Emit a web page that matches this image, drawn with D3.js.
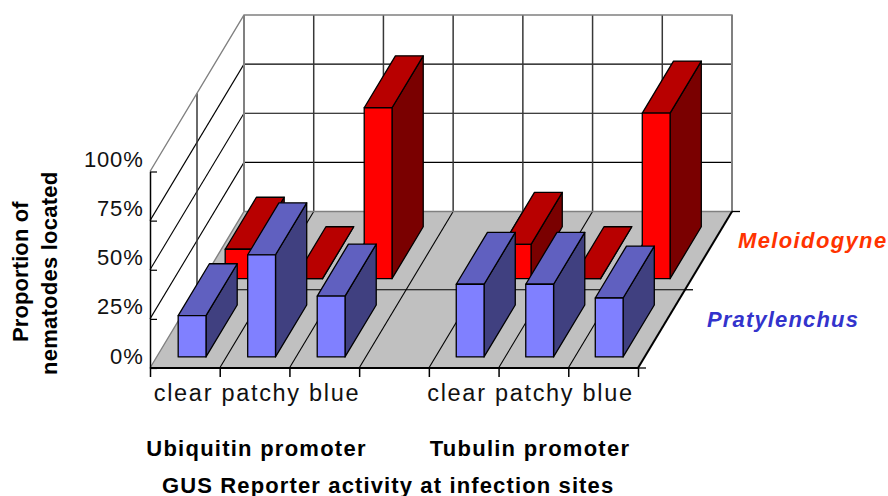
<!DOCTYPE html>
<style>
  html, body { margin: 0; background: white; }
  svg { display: block; font-family: "Liberation Sans", Arial, sans-serif; }
  .grid { stroke: black; stroke-width: 1.1; }
  .vgrid { stroke: #383838; stroke-width: 1.5; }
  .edge { stroke: #808080; stroke-width: 1.4; fill: none; }
  .axisline { stroke: black; stroke-width: 2; }
  .face { stroke: black; stroke-width: 1.3; stroke-linejoin: round; }
  .tick-label { font-size: 22px; letter-spacing: 0.8px; fill: #111; }
  .cat-label { font-size: 23.5px; letter-spacing: 1.7px; fill: #111; }
  .bold { font-weight: bold; fill: black; }
</style>
<body>
</body>
<script src="https://cdn.jsdelivr.net/npm/d3@7"></script>
<script>
  const categories = ['clear', 'patchy', 'blue'];
  const promoters = ['Ubiquitin promoter', 'Tubulin promoter'];
  const seriesNames = ['Pratylenchus', 'Meloidogyne'];
  const pratylenchus = [21, 52, 31, null, 37, 37, 30];
  const meloidogyne = [15, 0, 87, null, 17.5, 0, 84.3];
  const yTicks = [0, 25, 50, 75, 100];
  const w = 888, h = 496;

  const svg = d3.select('body').append('svg').attr('width', w).attr('height', h);

  // oblique projection, one scale per direction
  const xPos = d3.scaleLinear().domain([0, 7]).range([150, 638]);
  const depthX = d3.scaleLinear().domain([0, 1]).range([0, 94]);
  const depthY = d3.scaleLinear().domain([0, 1]).range([0, -156.5]);
  const yVal = d3.scaleLinear().domain([0, 100]).range([368, 171.5]);

  const project = (c, d, v) => [xPos(c) + depthX(d), yVal(v) + depthY(d)];

  const catIdx = d3.range(pratylenchus.length);
  const catBand = d3.scaleBand().domain(catIdx).range([0, 7]).paddingInner(0.6).paddingOuter(0.31);
  const depthBand = d3.scaleBand().domain(seriesNames).range([0, 1])
    .paddingInner(0.336).paddingOuter(0.168).align(0.42);
  const groupPos = d3.scalePoint().domain(promoters).range([256.5, 530]);

  const poly = d3.line();
  const seg = (g, a, b, cls) => g.append('line').attr('class', cls)
    .attr('x1', a[0]).attr('y1', a[1]).attr('x2', b[0]).attr('y2', b[1]);

  // walls and floor
  const walls = svg.append('g');
  walls.append('path').attr('fill', 'white')
    .attr('d', poly([project(0, 0, 0), project(0, 0, 100), project(0, 1, 100), project(7, 1, 100), project(7, 1, 0), project(0, 1, 0)]) + 'Z');
  walls.append('path').attr('fill', '#c0c0c0')
    .attr('d', poly([project(0, 0, 0), project(7, 0, 0), project(7, 1, 0), project(0, 1, 0)]) + 'Z');

  yTicks.slice(1, -1).forEach(v => {
    seg(walls, project(0, 0, v), project(0, 1, v), 'grid');
    seg(walls, project(0, 1, v), project(7, 1, v), 'grid');
  });
  d3.range(1, 7).forEach(c => {
    seg(walls, project(c, 1, 0), project(c, 1, 100), 'vgrid');
    seg(walls, project(c, 0, 0), project(c, 1, 0), 'grid');
  });
  seg(walls, project(0, 0.5, 0), project(0, 0.5, 100), 'vgrid');
  seg(walls, project(0, 0.5, 0), project(7, 0.5, 0), 'grid');

  walls.append('path').attr('class', 'edge')
    .attr('d', poly([project(0, 0, 100), project(0, 1, 100), project(7, 1, 100), project(7, 1, 0), project(0, 1, 0), project(0, 0, 0)]));
  seg(walls, project(0, 1, 0), project(0, 1, 100), 'edge').style('stroke-width', 2);
  seg(walls, project(7, 1, 0), project(7, 1, 100), 'edge').style('stroke-width', 2);

  // bars, back series first
  const seriesList = [
    {name: 'Meloidogyne', values: meloidogyne, front: '#ff0000', top: '#b80000', side: '#7a0000'},
    {name: 'Pratylenchus', values: pratylenchus, front: '#8080ff', top: '#6060c0', side: '#404080'}
  ];
  seriesList.forEach(s => {
    const d0 = depthBand(s.name), d1 = d0 + depthBand.bandwidth();
    const bars = svg.append('g').selectAll('g')
      .data(catIdx.filter(i => s.values[i] !== null))
      .join('g');
    const c0 = i => catBand(i), c1 = i => catBand(i) + catBand.bandwidth();
    bars.append('path').attr('class', 'face').attr('fill', s.side)
      .attr('d', i => poly([project(c1(i), d0, 0), project(c1(i), d1, 0), project(c1(i), d1, s.values[i]), project(c1(i), d0, s.values[i])]) + 'Z');
    bars.append('path').attr('class', 'face').attr('fill', s.top)
      .attr('d', i => poly([project(c0(i), d0, s.values[i]), project(c1(i), d0, s.values[i]), project(c1(i), d1, s.values[i]), project(c0(i), d1, s.values[i])]) + 'Z');
    bars.append('path').attr('class', 'face').attr('fill', s.front)
      .attr('d', i => poly([project(c0(i), d0, 0), project(c1(i), d0, 0), project(c1(i), d0, s.values[i]), project(c0(i), d0, s.values[i])]) + 'Z');
  });

  // front edges
  seg(svg, project(0, 0, 0), project(7, 0, 0), 'axisline');
  seg(svg, project(7, 0, 0), project(7, 1, 0), 'axisline');

  // y axis
  const yAxis = svg.append('g')
    .attr('transform', `translate(${xPos(0)}, 0)`)
    .call(d3.axisLeft(yVal).tickValues(yTicks).tickSizeInner(-7).tickSizeOuter(0).tickFormat(d => d + '%'));
  yAxis.select('.domain').attr('stroke-width', 1.5);
  yAxis.selectAll('.tick line').attr('stroke-width', 1.2);
  yAxis.attr('font-family', null).attr('font-size', null);
  yAxis.selectAll('text').attr('class', 'tick-label').attr('x', -6.5).attr('dy', '-5px');

  // x ticks
  const xTicks = svg.append('g')
    .attr('transform', `translate(0, ${yVal(0)})`)
    .call(d3.axisBottom(xPos).tickValues(d3.range(0, 8)).tickSize(9).tickFormat(''));
  xTicks.select('.domain').remove();
  xTicks.selectAll('line').attr('stroke-width', 1.5);

  // the category words run as one label under each promoter group
  const xLabels = svg.append('g')
    .attr('transform', `translate(0, ${yVal(0)})`)
    .call(d3.axisBottom(groupPos).tickSize(0).tickFormat(() => categories.join(' ')));
  xLabels.select('.domain').remove();
  xLabels.attr('font-family', null).attr('font-size', null);
  xLabels.selectAll('text').attr('class', 'cat-label').attr('y', 32.7).attr('dy', 0);

  // depth ticks on the right
  [0, 0.5, 1].forEach(d => {
    const p = project(7, d, 0);
    seg(svg, p, [p[0] + 8, p[1]], 'grid').style('stroke-width', 1.3);
  });

  // titles
  const label = (txt, x, y, spacing) => svg.append('text').attr('class', 'bold')
    .attr('x', x).attr('y', y).attr('font-size', 22).attr('letter-spacing', spacing).text(txt);
  promoters.forEach(p => {
    label(p, groupPos(p), 456, 1.25).attr('text-anchor', 'middle');
  });
  label('GUS Reporter activity at infection sites', 162, 492.5, 1.13);

  label('Proportion of', 0, 0, 0.1).attr('transform', 'translate(28, 342) rotate(-90)');
  label('nematodes located', 0, 0, 0.25).attr('transform', 'translate(57, 375) rotate(-90)');

  label('Meloidogyne', 738, 248, 1.37).attr('font-style', 'italic').style('fill', '#ff3300');
  label('Pratylenchus', 707, 327, 1.16).attr('font-style', 'italic').style('fill', '#3333cc');
</script>
